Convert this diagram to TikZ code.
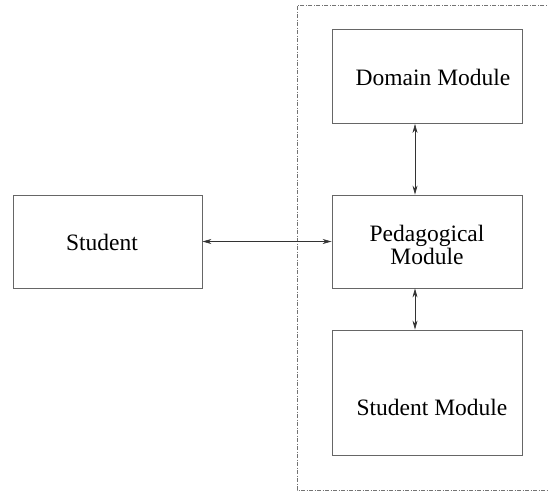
\documentclass[tikz,border=0pt]{standalone}
\usepackage{fontspec}
\setmainfont{Liberation Serif}
\usetikzlibrary{arrows.meta}
\begin{document}
\begin{tikzpicture}[x=1pt,y=-1pt,
  box/.style={draw=black!60,line width=0.9pt,minimum width=190pt,minimum height=94pt,inner sep=0pt},
  lbl/.style={font=\fontsize{23.5}{23}\selectfont,align=center,inner sep=0pt},
  link/.style={{Stealth[length=9pt,width=5pt]}-{Stealth[length=9pt,width=5pt]},line width=0.6pt,black!80},
  frame/.style={draw=black!55,line width=0.6pt,dash pattern=on 4pt off 1.5pt on 1pt off 1.5pt}]
\useasboundingbox (0,0) rectangle (548,501);
\fill[white] (0,0) rectangle (548,501);
\draw[frame] (560,5) -- (297,5) -- (297,490) -- (560,490);
\node[box,minimum width=189pt,minimum height=93pt] (student) at (107.5,241.5) {};
\node[lbl] (studenttext) at (102,242) {Student};
\node[box] (domain) at (427,76.5) {};
\node[lbl] (domaintext) at (433,77) {Domain Module};
\node[box,minimum height=93pt] (ped) at (427,241.5) {};
\node[lbl] (pedtext) at (427,245) {Pedagogical\\Module};
\node[box,minimum height=125pt] (smod) at (427,392.5) {};
\node[lbl] (smodtext) at (432,407) {Student Module};
\draw[link] (student.east) -- (ped.west);
\draw[link] (domain.south -| 415,0) -- (ped.north -| 415,0);
\draw[link] (ped.south -| 415,0) -- (smod.north -| 415,0);
\end{tikzpicture}
\end{document}
